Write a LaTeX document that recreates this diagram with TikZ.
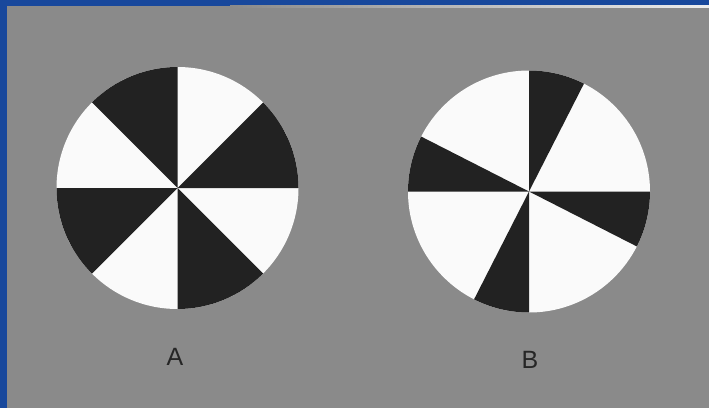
\documentclass[tikz,border=0pt]{standalone}
\usepackage{fontspec}
\setmainfont{Liberation Sans}
\definecolor{bggray}{RGB}{138,138,138}
\definecolor{frameblue}{RGB}{24,72,156}
\definecolor{sectorblack}{RGB}{34,34,34}
\definecolor{sectorwhite}{RGB}{250,250,250}
\tikzset{
  disc/.style={circle, fill=sectorwhite, inner sep=0pt, minimum size=242pt},
  blacksector/.style={fill=sectorblack},
  lab/.style={font=\fontsize{25}{30}\selectfont, text=black!85}
}
\begin{document}
\begin{tikzpicture}[x=1pt,y=1pt]
\useasboundingbox (0,0) rectangle (709,408);
% background and frame
\fill[bggray] (0,0) rectangle (709,408);
\fill[frameblue] (0,0) rectangle (7,408);
\fill[frameblue] (0,402) rectangle (709,408);
\fill[left color=bggray, right color=white!85!bggray] (230,400) rectangle (709,402);
% disc A
\node[disc] (A) at (177.5,220) {};
\foreach \a in {0,90,180,270}{
  \fill[blacksector] (A.center) -- ++(\a:121) arc[start angle=\a, end angle=\a+45, radius=121] -- cycle;
}
% disc B
\node[disc] (B) at (529,216.5) {};
\foreach \a in {-27,63,153,243}{
  \fill[blacksector] (B.center) -- ++(\a:121) arc[start angle=\a, end angle=\a+27, radius=121] -- cycle;
}
% labels
\node[lab] (labA) at (175,51) {A};
\node[lab] (labB) at (530,48) {B};
\end{tikzpicture}
\end{document}
